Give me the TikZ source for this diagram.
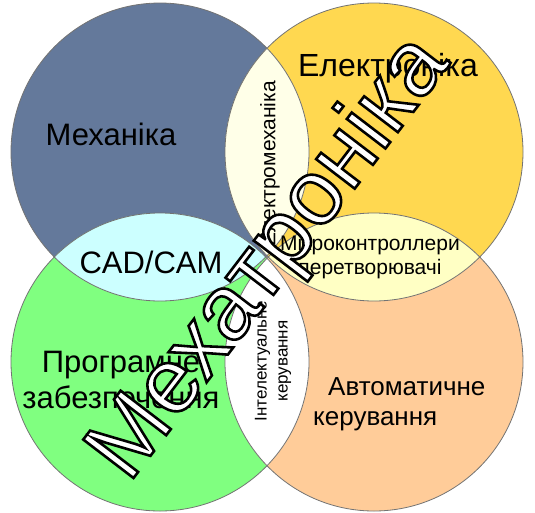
\documentclass[tikz,border=0pt]{standalone}
\usepackage{fontspec}
\setmainfont{Liberation Sans}
\newfontfamily\outlinefont[FakeBold=2.8]{Liberation Sans}
\definecolor{cmech}{RGB}{100,121,155}
\definecolor{celec}{RGB}{255,216,80}
\definecolor{cprog}{RGB}{128,255,128}
\definecolor{cauto}{RGB}{255,204,153}
\definecolor{lensTop}{RGB}{255,255,232}
\definecolor{lensLeft}{RGB}{204,255,255}
\definecolor{lensRight}{RGB}{255,255,196}
\definecolor{lensBot}{RGB}{255,255,255}
\begin{document}
\begin{tikzpicture}[x=1pt,y=-1pt,
  ring/.style={draw=black!55,line width=0.8pt},
  big/.style={font=\fontsize{31}{36}\selectfont,inner sep=0pt},
  mid/.style={font=\fontsize{26}{30}\selectfont,inner sep=0pt},
  small/.style={font=\fontsize{21}{23.5}\selectfont,inner sep=0pt},
  tiny/.style={font=\fontsize{17}{21}\selectfont,inner sep=0pt}]
\useasboundingbox (0,0) rectangle (535,512);
\def\R{149}
% circles
\fill[cmech] (160,152) circle (\R);
\fill[celec] (374,152) circle (\R);
\fill[cprog] (160,362) circle (\R);
\fill[cauto] (374,362) circle (\R);
% lenses
\begin{scope}\clip (160,152) circle (\R); \fill[lensTop] (374,152) circle (\R); \end{scope}
\begin{scope}\clip (160,152) circle (\R); \fill[lensLeft] (160,362) circle (\R); \end{scope}
\begin{scope}\clip (374,152) circle (\R); \fill[lensRight] (374,362) circle (\R); \end{scope}
\begin{scope}\clip (160,362) circle (\R); \fill[lensBot] (374,362) circle (\R); \end{scope}
% outlines
\draw[ring] (160,152) circle (\R);
\draw[ring] (374,152) circle (\R);
\draw[ring] (160,362) circle (\R);
\draw[ring] (374,362) circle (\R);
% labels
\node[big] (mech) at (111,134) {Механіка};
\node[font=\fontsize{32}{36}\selectfont,inner sep=0pt] (elec) at (388,68) {Електроніка};
\node[big] (cad) at (151,262) {CAD/CAM};
\node[big,align=center] (prog) at (121,380) {Програмне\\забезпечення};
\node[mid,align=left,anchor=west] (auto) at (313,404) {\hspace{15pt}Автоматичне\\керування};
\node[small,rotate=90] (emech) at (270,164) {Електромеханіка};
\node[small,align=center] (micro) at (370,257) {Мікроконтроллери\\перетворювачі};
\node[tiny,rotate=90,align=center] (intel) at (273,361) {Інтелектуальне\\керування};
% big title
\node[text=white,font=\fontsize{92}{94}\outlinefont,inner sep=0pt,rotate=52.6] (mt) at (271,259) {\special{pdf:literal direct 0 0 0 RG}Мехатроніка};
\end{tikzpicture}
\end{document}
